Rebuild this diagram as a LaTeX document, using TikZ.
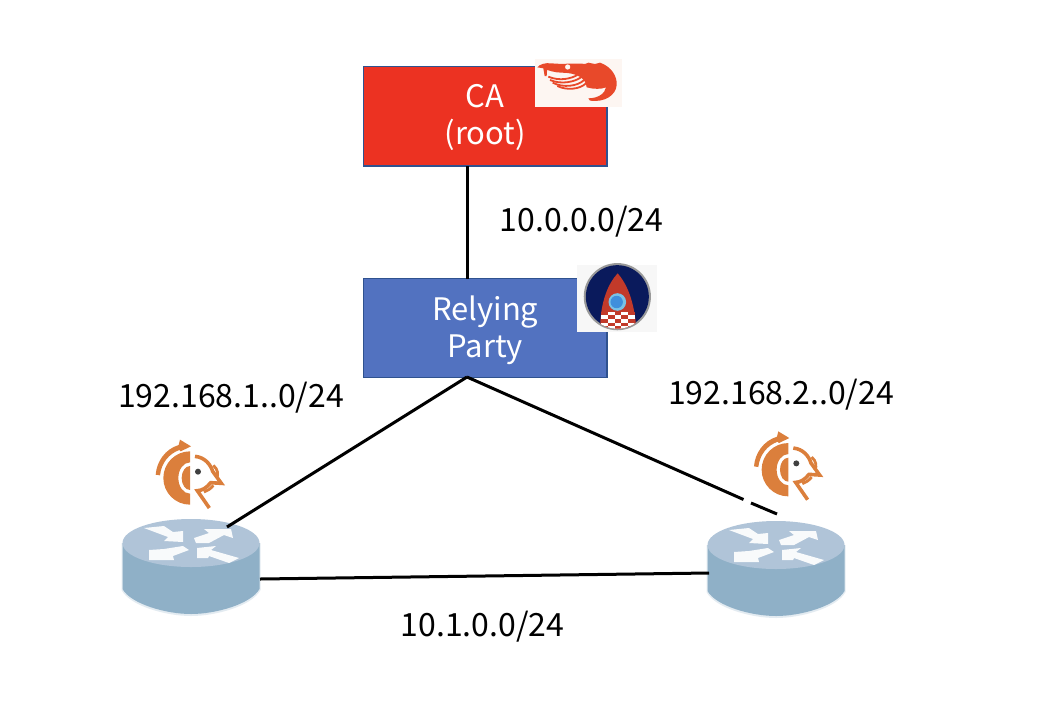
\documentclass[tikz,border=0pt]{standalone}
\usepackage{fontspec}
\setmainfont{Noto Sans CJK JP}
\usetikzlibrary{calc}
\definecolor{caRed}{HTML}{EC3222}
\definecolor{rpBlue}{HTML}{5272C0}
\definecolor{edgeBlue}{HTML}{2F528F}
\definecolor{shrimpBg}{HTML}{FDF6F2}
\definecolor{shrimpCol}{HTML}{E8492A}
\definecolor{birdCol}{HTML}{DB7F3C}
\definecolor{rTop}{HTML}{B0C4D8}
\definecolor{rSide}{HTML}{8FB0C7}
\definecolor{navy}{HTML}{0A1A5C}
\definecolor{rocketRed}{HTML}{C23A2A}
\definecolor{winOuter}{HTML}{79C3E6}
\definecolor{winInner}{HTML}{3F8FDC}
\tikzset{
 boxnode/.style={draw=edgeBlue,line width=1.2pt,minimum width=243.5pt,minimum height=99.5pt,inner sep=0pt},
 boxtext/.style={inner sep=0pt,text=white,align=center,font=\fontsize{31}{37}\selectfont},
 lbl/.style={inner sep=0pt,text=black,font=\fontsize{32}{38}\selectfont},
 link/.style={black,line width=3pt},
 spot/.style={inner sep=0pt,minimum size=0pt}
}
\newcommand{\routerpic}[2]{%
 \begin{scope}[shift={(#1,#2)},x=1pt,y=-1pt]
  \fill[rSide!50!white,opacity=.5] (-69.5,0) -- (-69.5,47) .. controls (-61,63) and (-25,73) .. (0,73) .. controls (25,73) and (61,63) .. (69.5,47) -- (69.5,0) -- cycle;
  \fill[rSide] (-68.5,0) -- (-68.5,46) .. controls (-60,61) and (-25,71) .. (0,71) .. controls (25,71) and (60,61) .. (68.5,46) -- (68.5,0) -- cycle;
  \fill[rTop] (0,0) ellipse [x radius=68.5pt,y radius=24pt];
  \fill[white,opacity=.92] (-47,-15) -- (-27,-17) -- (-18,-11) -- (-8,-12) -- (-8,-1) -- (-27,-2) -- (-23,-6) -- cycle;
  \fill[white,opacity=.92] (3,-5) -- (18,-10) -- (13,-14) -- (40,-14) -- (42,-5) -- (33,-8) -- (18,0) -- (5,0) -- cycle;
  \fill[white,opacity=.92] (-42,7) -- (-27,6) -- (-8,3) -- (-2,7) -- (-18,13) -- (-17,17) -- (-42,17) -- cycle;
  \fill[white,opacity=.92] (6,5) -- (25,3) -- (20,7) -- (48,15) -- (38,20) -- (18,13) -- (17,15) -- (6,15) -- cycle;
 \end{scope}}
\newcommand{\birdpic}[2]{%
 \begin{scope}[shift={(#1,#2)},x=0.3333pt,y=-0.3333pt]
  \fill[birdCol] (0,-80) arc [start angle=270,end angle=90,x radius=80*0.3333pt,y radius=-80*0.3333pt] -- (0,47) arc [start angle=90,end angle=270,x radius=35*0.3333pt,y radius=-47*0.3333pt] -- cycle;
  \fill[birdCol] (0,-36) arc [start angle=270,end angle=90,x radius=25*0.3333pt,y radius=-36*0.3333pt] -- cycle;
  \fill[birdCol] (-103,-10) -- (-90,-8) .. controls (-86,-45) and (-63,-73) .. (-32,-84) -- (-28,-80) -- (3,-95) -- (-30,-115) -- (-34,-99) .. controls (-74,-87) and (-100,-50) .. cycle;
  \draw[birdCol,line width=3.6pt,line join=miter] (15,-65) .. controls (45,-62) and (62,-40) .. (68,-20) -- (94,16) -- (62,14) .. controls (50,30) and (35,38) .. (22,38) -- (58,90);
  \draw[birdCol,line width=2.8pt] (70,-38) .. controls (85,-25) and (85,-10) .. (80,0);
  \draw[birdCol,line width=2.8pt] (70,22) .. controls (62,33) and (52,38) .. (42,42);
  \fill[black!75] (24,-19) circle [radius=3pt];
 \end{scope}}
\begin{document}
\begin{tikzpicture}[x=1pt,y=-1pt]
\useasboundingbox (0,0) rectangle (1038,710);
% nodes and anchors
\node[boxnode,fill=caRed] (ca) at (485.25,116.25) {};
\node[boxnode,fill=rpBlue] (rp) at (485.25,328) {};
\node[spot] (r1) at (191,567) {};
\node[spot] (r2) at (776,567) {};
\coordinate (caport) at (467,166);
\coordinate (rptop) at (467,278.5);
\coordinate (rpbot) at (467,377);
\coordinate (r1up) at (227,527);
\coordinate (r2up) at (777,514);
\coordinate (gapa) at (743.5,499.5);
\coordinate (gapb) at (751,503);
\coordinate (r1east) at (260,579);
\coordinate (r2west) at (709,573);
% routers
\routerpic{191}{543}
\routerpic{776}{545}
% connectors
\draw[link] (caport) -- (rptop);
\draw[link] (rpbot) -- (r1up);
\draw[link] (rpbot) -- (gapa);
\draw[link] (gapb) -- (r2up);
\draw[link] (r1east) -- (r2west);
% box text
\node[boxtext] (catext) at (485.25,117.5) {CA\\(root)};
\node[boxtext] (rptext) at (485.25,330.5) {Relying\\Party};
% labels
\node[lbl] (l1) at (581.5,222) {10.0.0.0/24};
\node[lbl] (l2) at (231,398) {192.168.1..0/24};
\node[lbl] (l3) at (781,395) {192.168.2..0/24};
\node[lbl] (l4) at (482.5,627) {10.1.0.0/24};
% shrimp logo
\fill[shrimpBg] (535,59) rectangle (621.7,106.7);
\begin{scope}[shift={(520,50)},x=0.3333pt,y=-0.3333pt]
 \fill[shrimpCol] (52,52) .. controls (60,42) and (75,38) .. (95,40) .. controls (130,44) and (170,38) .. (195,42) -- (205,38) -- (225,42) -- (240,38) .. controls (275,50) and (292,80) .. (290,105) .. controls (288,135) and (255,158) .. (210,152) -- (205,145) .. controls (235,145) and (255,130) .. (258,112) .. controls (245,118) and (220,118) .. (200,112) .. controls (198,85) and (170,68) .. (125,68) .. controls (105,68) and (85,62) .. (70,55) -- cycle;
 \fill[shrimpCol] (70,55) -- (82,50) -- (80,78) -- (74,78) -- cycle;
 \draw[shrimpCol,line width=1.8pt] (85,80) .. controls (120,95) and (155,85) .. (172,75);
 \draw[shrimpCol,line width=1.8pt] (90,90) .. controls (125,105) and (165,95) .. (183,82);
 \draw[shrimpCol,line width=1.8pt] (98,98) .. controls (130,115) and (175,108) .. (192,90);
 \draw[shrimpCol,line width=1.8pt] (112,108) .. controls (140,122) and (180,118) .. (198,100);
 \fill[shrimpBg] (143,51) circle [radius=2.6pt];
\end{scope}
% rocket logo
\fill[black!3] (577.3,265) rectangle (656.7,332);
\begin{scope}[shift={(565,255)},x=0.3333pt,y=-0.3333pt]
 \fill[black!40] (157,125) circle [radius=33.6pt];
 \fill[navy] (157,125) circle [radius=31.5pt];
 \begin{scope}
  \clip (157,125) circle [radius=32pt];
  \fill[rocketRed] (158,55) .. controls (185,85) and (205,135) .. (212,200) -- (212,228) -- (106,228) -- (106,200) .. controls (110,135) and (130,85) .. cycle;
  \fill[white] (108,170) rectangle (210,228);
  \foreach \i in {0,...,4}{\foreach \j in {0,...,4}{
   \pgfmathtruncatemacro{\m}{mod(\i+\j,2)}
   \ifnum\m=0 \fill[rocketRed] ({108+\i*20.4},{170+\j*11}) rectangle ++(20.4,11); \fi
  }}
 \end{scope}
 \fill[winOuter] (157,141) circle [radius=8.8pt];
 \fill[winInner] (155,141) circle [radius=6.2pt];
\end{scope}
% birds
\birdpic{190}{478}
\birdpic{788.3}{469.7}
\end{tikzpicture}
\end{document}
